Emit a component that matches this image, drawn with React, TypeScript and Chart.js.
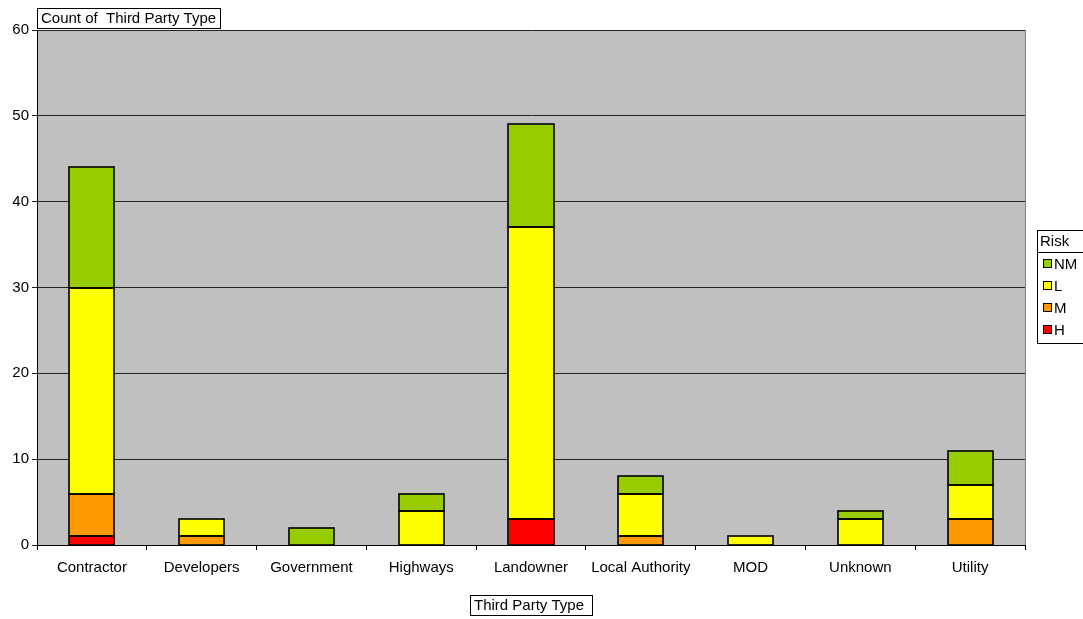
import React, { useEffect, useRef } from "react";
import { Chart, registerables } from "chart.js";

Chart.register(...registerables);

const categories = ["Contractor", "Developers", "Government", "Highways", "Landowner", "Local Authority", "MOD", "Unknown", "Utility"];
const riskH = [1, 0, 0, 0, 3, 0, 0, 0, 0];
const riskM = [5, 1, 0, 0, 0, 1, 0, 0, 3];
const riskL = [24, 2, 0, 4, 34, 5, 1, 3, 4];
const riskNM = [14, 0, 2, 2, 12, 2, 0, 1, 4];
const yTicks = [0, 10, 20, 30, 40, 50, 60];

const FONT = "'Liberation Sans', Arial, sans-serif";

const boxesPlugin = {
  id: "boxes",
  beforeDraw(chart: any) {
    const { ctx, chartArea } = chart;
    ctx.save();
    ctx.fillStyle = "#C0C0C0";
    ctx.fillRect(chartArea.left, chartArea.top, chartArea.right - chartArea.left, chartArea.bottom - chartArea.top);
    ctx.restore();
  },
  afterDatasetsDraw(chart: any) {
    const { ctx } = chart;
    ctx.save();
    ctx.strokeStyle = "#000";
    ctx.lineWidth = 1.6;
    chart.data.datasets.forEach((_d: any, di: number) => {
      const meta = chart.getDatasetMeta(di);
      meta.data.forEach((el: any, i: number) => {
        const v = chart.data.datasets[di].data[i];
        if (v === null || v === undefined) return;
        const left = Math.round(el.x - el.width / 2);
        const right = Math.round(el.x + el.width / 2);
        const top = Math.round(el.y);
        const bottom = Math.round(el.base);
        ctx.strokeRect(left, top, right - left, bottom - top);
      });
    });
    ctx.restore();
  },
  afterDraw(chart: any) {
    const { ctx, chartArea } = chart;
    ctx.save();
    ctx.strokeStyle = "#808080";
    ctx.lineWidth = 1;
    ctx.beginPath();
    ctx.moveTo(chartArea.right + 0.5, chartArea.top);
    ctx.lineTo(chartArea.right + 0.5, chartArea.bottom);
    ctx.stroke();

    ctx.font = `15px ${FONT}`;
    ctx.textBaseline = "middle";
    ctx.fillStyle = "#000";
    ctx.strokeStyle = "#000";

    const drawBox = (text: string, x: number, y: number, w: number, h: number) => {
      ctx.fillStyle = "#fff";
      ctx.fillRect(x, y, w, h);
      ctx.strokeRect(x + 0.5, y + 0.5, w, h);
      ctx.fillStyle = "#000";
      ctx.textAlign = "left";
      ctx.fillText(text, x + 4, y + h / 2 + 1);
    };
    drawBox("Count of  Third Party Type", 37, 8, 183, 20);
    drawBox("Third Party Type", 470, 595, 122, 20);

    const lx = 1037, ly = 230, lw = 50, lh = 113;
    ctx.fillStyle = "#fff";
    ctx.fillRect(lx, ly, lw, lh);
    ctx.strokeRect(lx + 0.5, ly + 0.5, lw, lh);
    ctx.beginPath();
    ctx.moveTo(lx, ly + 22.5);
    ctx.lineTo(lx + lw, ly + 22.5);
    ctx.stroke();
    ctx.fillStyle = "#000";
    ctx.textAlign = "left";
    ctx.fillText("Risk", lx + 3, ly + 12);
    const ds = chart.data.datasets.slice().reverse();
    ds.forEach((d: any, i: number) => {
      const cy = ly + 34 + i * 22;
      ctx.fillStyle = d.backgroundColor;
      ctx.fillRect(lx + 6, cy - 4, 8, 8);
      ctx.strokeRect(lx + 6.5, cy - 4.5, 8, 8);
      ctx.fillStyle = "#000";
      ctx.fillText(d.label, lx + 17, cy + 1);
    });
    ctx.restore();
  },
};

export default function App() {
  const ref = useRef<HTMLCanvasElement>(null);
  useEffect(() => {
    document.body.style.margin = "0";
    const nz = (a: number[]) => a.map((v) => (v === 0 ? null : v));
    const mk = (label: string, data: number[], color: string) => ({
      label,
      data: nz(data),
      backgroundColor: color,
      borderWidth: 0,
      barPercentage: 0.41,
      categoryPercentage: 1.0,
    });
    const chart = new Chart(ref.current as HTMLCanvasElement, {
      type: "bar",
      data: {
        labels: categories,
        datasets: [
          mk("H", riskH, "#FF0000"),
          mk("M", riskM, "#FF9900"),
          mk("L", riskL, "#FFFF00"),
          mk("NM", riskNM, "#99CC00"),
        ],
      },
      options: {
        animation: false,
        responsive: false,
        devicePixelRatio: 1,
        layout: { padding: { top: 30, right: 58, left: 0, bottom: 0 } },
        plugins: { legend: { display: false }, tooltip: { enabled: false } },
        scales: {
          x: {
            stacked: true,
            grid: { display: true, drawOnChartArea: false, drawTicks: true, tickLength: 5, color: "#000", offset: true },
            border: { color: "#000", width: 1 },
            ticks: { color: "#000", font: { family: FONT, size: 15 }, padding: 9, maxRotation: 0, autoSkip: false },
            afterFit: (s: any) => { s.height = 74; },
          },
          y: {
            stacked: true,
            min: 0,
            max: 60,
            afterBuildTicks: (s: any) => { s.ticks = yTicks.map((v) => ({ value: v })); },
            grid: { color: "#222", drawTicks: true, tickLength: 5, lineWidth: 1 },
            border: { color: "#000", width: 1 },
            ticks: { color: "#000", font: { family: FONT, size: 15 }, padding: 3 },
            afterFit: (s: any) => { s.width = 37; },
          },
        },
      },
      plugins: [boxesPlugin],
    } as any);
    return () => chart.destroy();
  }, []);
  return (
    <div style={{ width: 1083, height: 619 }}>
      <canvas ref={ref} width={1083} height={619} style={{ display: "block" }} />
    </div>
  );
}
